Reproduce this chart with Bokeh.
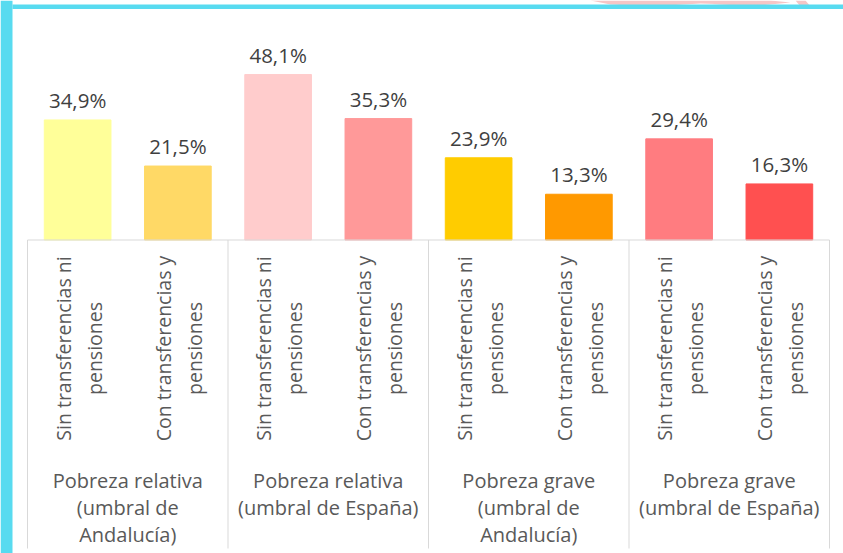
import math
from bokeh.plotting import figure
from bokeh.models import Range1d, BoxAnnotation, ColumnDataSource
from bokeh.core.properties import value
from bokeh.embed import file_html
from bokeh.resources import INLINE

# ---- data ----
bar_labels = [
    "Sin transferencias ni\npensiones", "Con transferencias y\npensiones",
    "Sin transferencias ni\npensiones", "Con transferencias y\npensiones",
    "Sin transferencias ni\npensiones", "Con transferencias y\npensiones",
    "Sin transferencias ni\npensiones", "Con transferencias y\npensiones",
]
values = [34.9, 21.5, 48.1, 35.3, 23.9, 13.3, 29.4, 16.3]
value_texts = ["34,9%", "21,5%", "48,1%", "35,3%", "23,9%", "13,3%", "29,4%", "16,3%"]
group_labels = [
    "Pobreza relativa\n(umbral de\nAndalucía)",
    "Pobreza relativa\n(umbral de España)",
    "Pobreza grave\n(umbral de\nAndalucía)",
    "Pobreza grave\n(umbral de España)",
]
colors = ["#FFFF99", "#FFD966", "#FFCCCC", "#FF9999", "#FFCC00", "#FF9900", "#FF7C80", "#FF5050"]

# ---- layout ----
W, H = 843, 553
slot = 100.25          # px per category
left_px = 27
base_px = 239.5
ppu = 3.44             # px per percentage point

x0 = -0.5 - left_px / slot
x1 = x0 + W / slot
y1 = base_px / ppu
y0 = -(H - base_px) / ppu

def ydat(px):
    return y1 - px / ppu

def xdat(px):
    return x0 + px / slot

p = figure(width=W, height=H, x_range=Range1d(x0, x1), y_range=Range1d(y0, y1),
           x_axis_type=None, y_axis_type=None, output_backend="svg",
           toolbar_location=None, min_border=0)
p.outline_line_color = None
p.background_fill_color = "white"
p.border_fill_color = "white"

xs = list(range(len(values)))
src = ColumnDataSource(dict(x=xs, top=values, color=colors, vt=value_texts, lab=bar_labels))

p.vbar(x="x", top="top", bottom=0, width=0.665, color="color", source=src)

# baseline & separators
p.segment(x0=[-0.5], y0=[0], x1=[len(values) - 0.5], y1=[0], line_color="#D9D9D9", line_width=1)
seps = [-0.5, 1.5, 3.5, 5.5, 7.5]
p.segment(x0=seps, y0=[0] * len(seps), x1=seps, y1=[ydat(548)] * len(seps),
          line_color="#D9D9D9", line_width=1)

# value labels
p.text(x="x", y="top", text="vt", source=src, text_align="center", text_baseline="alphabetic",
       y_offset=-20, text_font=value("Open Sans"), text_font_size="20.5px", text_color="#3F3F3F")

# rotated category labels
p.text(x=[x + 0.01 for x in xs], y=[ydat(348)] * len(xs), text=bar_labels, angle=math.pi / 2,
       text_align="center", text_baseline="middle", text_line_height=1.15,
       text_font=value("Open Sans"), text_font_size="19.5px", text_color="#595959")

# group labels
gx = [0.5, 2.5, 4.5, 6.5]
p.text(x=gx, y=[ydat(466)] * 4, text=group_labels, text_align="center", text_baseline="top",
       text_line_height=1.0, text_font=value("Open Sans"), text_font_size="20px",
       text_color="#595959")

# frame decorations
cyan = "#58DBF0"
p.add_layout(BoxAnnotation(left=x0, right=xdat(12), fill_color=cyan, fill_alpha=1, line_color=None))
p.add_layout(BoxAnnotation(left=xdat(12), bottom=ydat(8.5), top=ydat(4), fill_color=cyan,
                           fill_alpha=1, line_color=None))
# pink brush marks at top right (decoration above the border)
p.patch([xdat(v) for v in [590, 610, 650, 700, 760, 790, 770, 720, 660, 620]],
        [ydat(v) for v in [0, 4, 6, 3, 5, 2, 0, 0, 0, 0]],
        fill_color="#F5C6C6", line_color=None)
p.patch([xdat(v) for v in [700, 740, 770, 740]],
        [ydat(v) for v in [5, 7, 5, 3]], fill_color="#F5C6C6", line_color=None)
p.patch([xdat(v) for v in [795, 800, 810, 805]],
        [ydat(v) for v in [0, 6, 6, 0]], fill_color="#F5C6C6", line_color=None)

open("out.html", "w").write(file_html(p, INLINE))
